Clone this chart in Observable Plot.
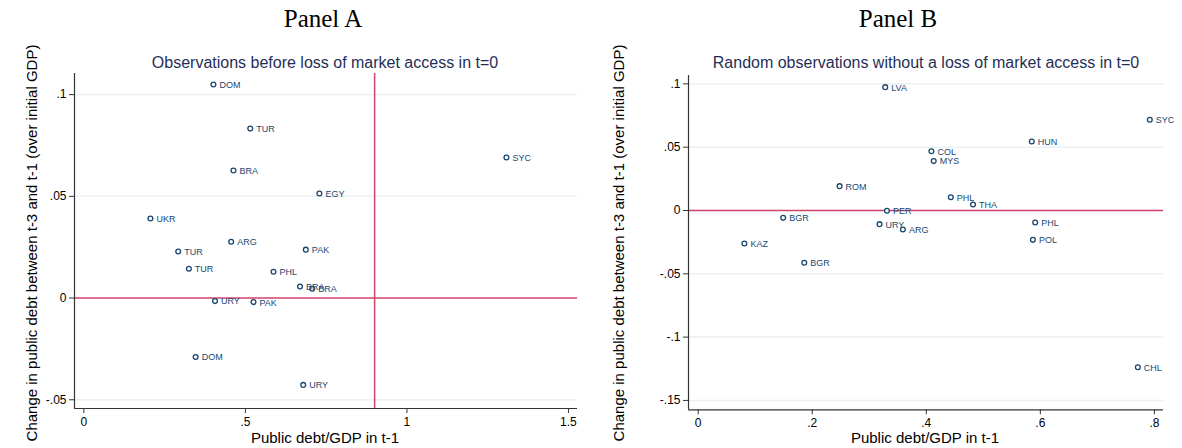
<!DOCTYPE html>
<html>
<head>
<meta charset="utf-8">
<script src="https://cdn.jsdelivr.net/npm/d3@7"></script>
<script src="https://cdn.jsdelivr.net/npm/@observablehq/plot@0.6"></script>
<style>
  html, body { margin: 0; padding: 0; background: #fff; }
  #wrap { position: relative; width: 1182px; height: 448px; overflow: hidden; font-family: "Liberation Sans", Arial, sans-serif; }
  .panel { position: absolute; top: 0; width: 591px; height: 448px; }
  .panel svg { position: absolute; left: 0; top: 0; }
  .t { position: absolute; white-space: nowrap; line-height: 1; transform: translateX(-50%); }
  .ptitle { font-family: "Liberation Serif", "Times New Roman", serif; font-size: 25px; color: #000; top: 6px; }
  .sub { font-size: 16px; color: #1f2f57; top: 54.5px; }
  .xl { font-size: 15px; color: #000; top: 429.5px; }
  .yl { font-size: 15px; color: #000; transform: translate(-50%, -50%) rotate(-90deg); }
</style>
</head>
<body>
<div id="wrap">
  <div class="panel" id="pa" style="left:0px">
    <div class="t ptitle" style="left:323px">Panel A</div>
    <div class="t sub" style="left:325px">Observations before loss of market access in t=0</div>
    <div class="t xl" style="left:325px">Public debt/GDP in t-1</div>
    <div class="t yl" style="left:31px; top:243px">Change in public debt between t-3 and t-1 (over initial GDP)</div>
  </div>
  <div class="panel" id="pb" style="left:591px">
    <div class="t ptitle" style="left:307px">Panel B</div>
    <div class="t sub" style="left:335px">Random observations without a loss of market access in t=0</div>
    <div class="t xl" style="left:334px">Public debt/GDP in t-1</div>
    <div class="t yl" style="left:27px; top:243px">Change in public debt between t-3 and t-1 (over initial GDP)</div>
  </div>
</div>
<script>
// ---- Panel A data ----
const countriesA = ["DOM","TUR","BRA","EGY","SYC","UKR","ARG","TUR","PAK","TUR","PHL","BRA","BRA","URY","PAK","DOM","URY"];
const debtA      = [0.401,0.515,0.463,0.729,1.308,0.206,0.456,0.292,0.687,0.325,0.587,0.669,0.707,0.406,0.525,0.346,0.679];
const changeA    = [0.105,0.0833,0.0627,0.0514,0.0691,0.0391,0.0277,0.0229,0.0238,0.0144,0.0129,0.0057,0.0046,-0.0015,-0.0020,-0.0290,-0.0427];
const xTicksA = [0, 0.5, 1, 1.5];
const yTicksA = [-0.05, 0, 0.05, 0.1];
const xDomainA = [-0.029, 1.528];
const yDomainA = [-0.0543, 0.1104];
const vLineA = [0.9];

// ---- Panel B data ----
const countriesB = ["LVA","SYC","HUN","COL","MYS","ROM","PHL","THA","PER","BGR","URY","ARG","PHL","KAZ","POL","BGR","CHL"];
const debtB      = [0.328,0.792,0.585,0.409,0.413,0.248,0.443,0.482,0.331,0.149,0.318,0.359,0.591,0.081,0.587,0.186,0.771];
const changeB    = [0.0974,0.0717,0.0545,0.0468,0.0390,0.0192,0.0105,0.0047,-0.0002,-0.0058,-0.0108,-0.0150,-0.0095,-0.0261,-0.0232,-0.0413,-0.1238];
const xTicksB = [0, 0.2, 0.4, 0.6, 0.8];
const yTicksB = [-0.15, -0.1, -0.05, 0, 0.05, 0.1];
const xDomainB = [-0.017, 0.816];
const yDomainB = [-0.1574, 0.1066];

const navy = "#1a476f";
const red = "#d0436a";
const grid = "#e9f1f3";
const fmt = d => d === 0 ? "0" : String(d).replace("0.", ".");

function panel(countries, xs, ys, xTicks, yTicks, xDomain, yDomain, vLines, margins) {
  const data = countries.map((c, i) => ({c, x: xs[i], y: ys[i]}));
  return Plot.plot({
    width: 591, height: 448,
    marginLeft: margins[0], marginRight: margins[1], marginTop: margins[2], marginBottom: margins[3],
    style: {fontFamily: "'Liberation Sans', Arial, sans-serif", fontSize: "12px", color: "#000", background: "transparent", overflow: "visible"},
    x: {domain: xDomain},
    y: {domain: yDomain},
    marks: [
      Plot.ruleY(yTicks.filter(d => d !== 0), {stroke: grid, strokeWidth: 1.5}),
      Plot.ruleY([0], {stroke: red, strokeWidth: 1.5}),
      Plot.ruleX(vLines, {stroke: red, strokeWidth: 1.5}),
      Plot.ruleX([xDomain[0]], {stroke: "#333", strokeWidth: 1.2}),
      Plot.ruleY([yDomain[0]], {stroke: "#333", strokeWidth: 1.2}),
      Plot.axisX({ticks: xTicks, tickFormat: fmt, tickSize: 5, tickPadding: 4, label: null, stroke: "#333", fill: "#000", fontSize: 12}),
      Plot.axisY({ticks: yTicks, tickFormat: fmt, tickSize: 5, tickPadding: 3, label: null, stroke: "#333", fill: "#000", fontSize: 12}),
      Plot.dot(data, {x: "x", y: "y", r: 2.4, stroke: navy, strokeWidth: 1.3, fill: "white"}),
      Plot.text(data, {x: "x", y: "y", text: "c", dx: 6, dy: 0.5, textAnchor: "start", fill: navy, fontSize: 9})
    ]
  });
}

document.getElementById("pa").appendChild(
  panel(countriesA, debtA, changeA, xTicksA, yTicksA, xDomainA, yDomainA, vLineA, [74, 14, 73, 40]));
document.getElementById("pb").appendChild(
  panel(countriesB, debtB, changeB, xTicksB, yTicksB, xDomainB, yDomainB, [], [97, 19, 75, 38.7]));
</script>
</body>
</html>
